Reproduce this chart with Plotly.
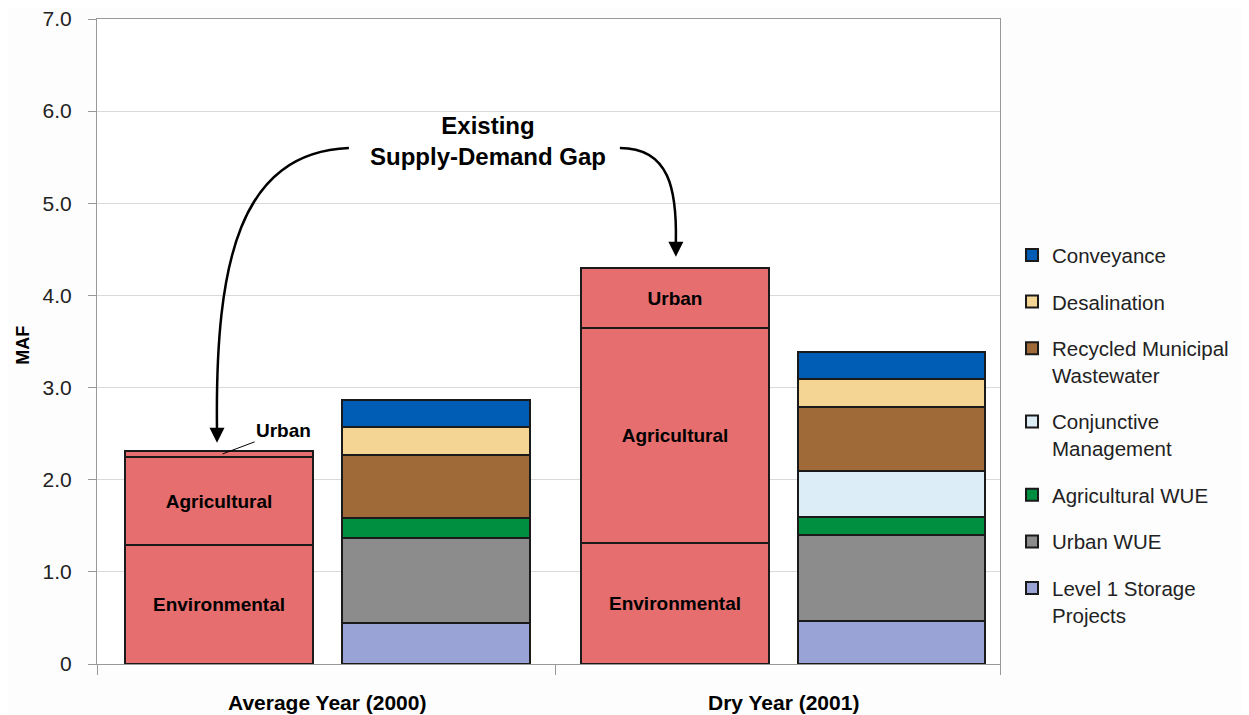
import plotly.graph_objects as go

# bar slots: demand / supply for each year
years = ["Average Year (2000)", "Dry Year (2001)"]
slot_x = [0.0, 1.0, 2.1, 3.1]
demand_x = [slot_x[0], slot_x[2]]
supply_x = [slot_x[1], slot_x[3]]

# existing demand (MAF)
demand_names = ["Environmental", "Agricultural", "Urban"]
demand_env = [1.29, 1.31]
demand_ag = [0.96, 2.34]
demand_urban = [0.06, 0.65]
demand_text = {
    "Environmental": ["Environmental", "Environmental"],
    "Agricultural": ["Agricultural", "Agricultural"],
    "Urban": ["", "Urban"],
}

# supply options (MAF), bottom to top
level1_storage = [0.45, 0.47]
urban_wue = [0.92, 0.93]
ag_wue = [0.21, 0.19]
conjunctive = [0.0, 0.50]
recycled = [0.69, 0.70]
desalination = [0.30, 0.30]
conveyance = [0.30, 0.30]

supply_names = ["Level 1 Storage<br>Projects", "Urban WUE", "Agricultural WUE",
                "Conjunctive<br>Management", "Recycled Municipal<br>Wastewater",
                "Desalination", "Conveyance"]
supply_colors = ["#99A3D6", "#8C8C8C", "#008E40", "#DDEDF8", "#A06A38", "#F5D593", "#005DB5"]

y_ticks = [0, 1, 2, 3, 4, 5, 6, 7]
y_ticktext = ["0", "1.0", "2.0", "3.0", "4.0", "5.0", "6.0", "7.0"]

FONT = "Liberation Sans, Arial, sans-serif"
BAR_W = 0.866
RED = "#E66E6E"
EDGE = "#1a1a1a"

fig = go.Figure()

for name, vals in zip(demand_names, [demand_env, demand_ag, demand_urban]):
    fig.add_trace(go.Bar(
        x=demand_x, y=vals, width=BAR_W, name=name,
        marker=dict(color=RED, line=dict(color=EDGE, width=2)),
        text=demand_text[name], textposition="inside", insidetextanchor="middle",
        textangle=0, constraintext="none",
        textfont=dict(family=FONT, size=19, color="black", weight="bold"),
        showlegend=False, hoverinfo="skip",
    ))

supply_vals = [level1_storage, urban_wue, ag_wue, conjunctive, recycled, desalination, conveyance]
n = len(supply_names)
for i, (name, vals, col) in enumerate(zip(supply_names, supply_vals, supply_colors)):
    fig.add_trace(go.Bar(
        x=supply_x, y=vals, width=BAR_W, name=name,
        legendgroup=f"g{i}", legendrank=n - i,
        marker=dict(color=col, line=dict(color=EDGE, width=2)),
    ))

# curved arrows from the gap label
fig.add_shape(type="path", xref="x", yref="y",
              path="M 0.599 5.60 C 0.097 5.55, -0.018 4.38, -0.009 2.55",
              line=dict(color="black", width=2.5))
fig.add_shape(type="path", xref="x", yref="y",
              path="M 1.848 5.60 C 2.078 5.60, 2.111 5.14, 2.106 4.58",
              line=dict(color="black", width=2.5))
fig.add_annotation(x=-0.009, y=2.40, ax=-0.009, ay=2.56, xref="x", yref="y",
                   axref="x", ayref="y", text="", showarrow=True,
                   arrowhead=2, arrowsize=1.2, arrowwidth=2.5, arrowcolor="black")
fig.add_annotation(x=2.106, y=4.42, ax=2.106, ay=4.59, xref="x", yref="y",
                   axref="x", ayref="y", text="", showarrow=True,
                   arrowhead=2, arrowsize=1.2, arrowwidth=2.5, arrowcolor="black")
fig.add_annotation(x=1.242, y=5.676, xref="x", yref="y", showarrow=False,
                   text="Existing<br>Supply-Demand Gap",
                   font=dict(family=FONT, size=24, color="black", weight="bold"))

# small urban slice label for the average year
fig.add_annotation(x=0.017, y=2.28, xref="x", yref="y", text="Urban",
                   showarrow=True, arrowhead=0, arrowwidth=1, arrowcolor="black",
                   ax=61, ay=-23,
                   font=dict(family=FONT, size=19, color="black", weight="bold"))

# year labels under each group
for yr, d, s in zip(years, demand_x, supply_x):
    fig.add_annotation(x=(d + s) / 2, y=-0.059, xref="x", yref="paper", yanchor="middle",
                       text=yr, showarrow=False,
                       font=dict(family=FONT, size=21, color="black", weight="bold"))

# axis title
fig.add_annotation(x=-0.082, y=0.495, xref="paper", yref="paper", text="MAF",
                   xanchor="center", yanchor="middle",
                   textangle=-90, showarrow=False,
                   font=dict(family=FONT, size=18, color="black", weight="bold"))

fig.update_layout(
    width=1241, height=707,
    barmode="stack", bargap=0,
    paper_bgcolor="#FDFDFD", plot_bgcolor="white",
    margin=dict(l=89, r=249, t=11, b=51, autoexpand=False),
    font=dict(family=FONT, color="#222"),
    legend=dict(x=1.0133, y=0.665, xanchor="left", yanchor="top",
                tracegroupgap=17, valign="top",
                font=dict(family=FONT, size=20.5, color="#222"),
                bgcolor="rgba(0,0,0,0)"),
    xaxis=dict(range=[-0.562, 3.6], tickvals=[-0.562, 1.553, 3.6], ticktext=["", "", ""],
               ticks="outside", ticklen=10, tickcolor="#999", showgrid=False,
               showline=True, linecolor="#999", mirror=True, zeroline=False,
               automargin=False),
    yaxis=dict(range=[0, 7], tickvals=y_ticks, ticktext=y_ticktext,
               ticks="outside", ticklen=8, tickcolor="#999", ticklabelstandoff=12,
               ticklabeloverflow="allow",
               tickfont=dict(family=FONT, size=21, color="#222"),
               showgrid=True, gridcolor="#D9D9D9", gridwidth=1,
               showline=True, linecolor="#999", mirror=True, zeroline=False,
               automargin=False),
)

fig.write_html("out.html")
